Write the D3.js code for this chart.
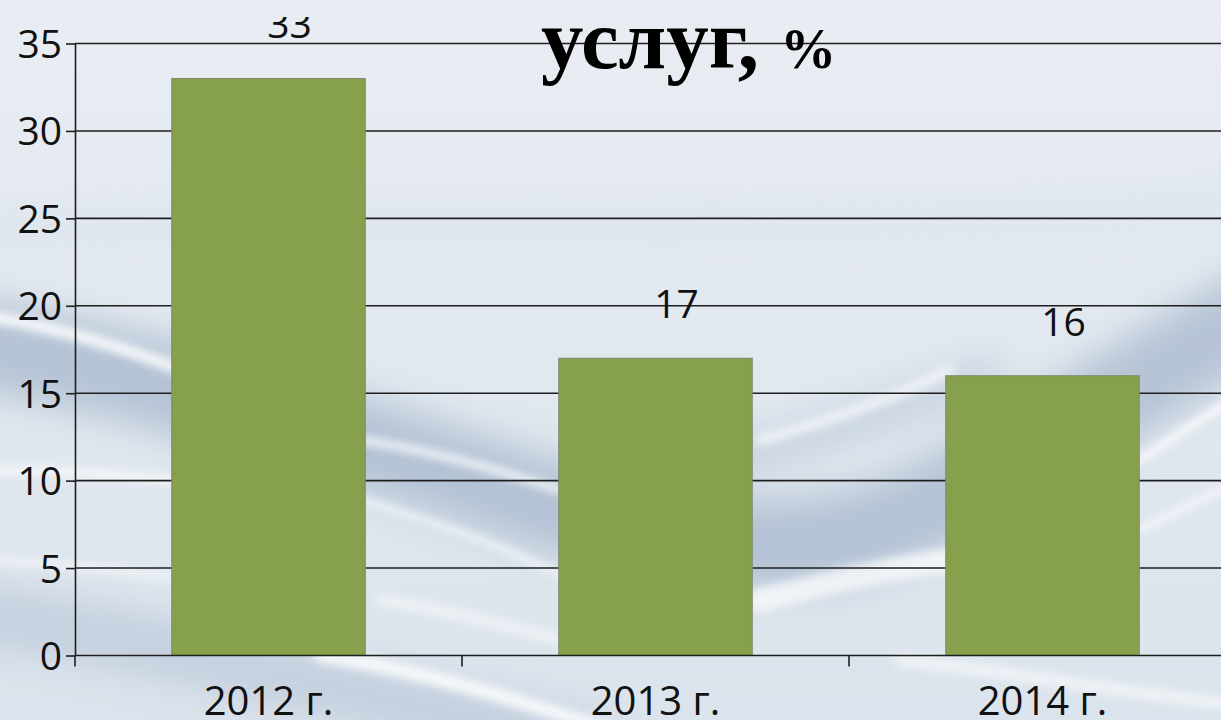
<!DOCTYPE html>
<html>
<head>
<meta charset="utf-8">
<script src="https://cdn.jsdelivr.net/npm/d3@7"></script>
<style>
  html, body { margin: 0; padding: 0; overflow: hidden; }
  body { width: 1221px; height: 720px; }
  .sans { font-family: "Open Sans", sans-serif; }
  .serif { font-family: "Liberation Serif", "Times New Roman", serif; font-weight: bold; }
</style>
</head>
<body>
<div id="chart-area"></div>
<script>
const categories = ["2012 г.", "2013 г.", "2014 г."];
const values = [33, 17, 16];
const yTicks = [0, 5, 10, 15, 20, 25, 30, 35];
const titleText = "услуг,";
const titleUnit = "%";

const W = 1221, H = 720;
const margin = { top: 43.5, left: 75, bottom: 64.5 };
const plotW = 1161; // axis runs past the right edge of the picture
const plotH = H - margin.top - margin.bottom;

const svg = d3.select("#chart-area")
  .append("svg")
  .attr("width", W)
  .attr("height", H);

// background: pale blue-grey with soft waves
const defs = svg.append("defs");
const bg = defs.append("linearGradient")
  .attr("id", "bg").attr("x1", 0).attr("y1", 0).attr("x2", 0).attr("y2", 1);
bg.append("stop").attr("offset", "0%").attr("stop-color", "#e9edf3");
bg.append("stop").attr("offset", "40%").attr("stop-color", "#e3e9f0");
bg.append("stop").attr("offset", "100%").attr("stop-color", "#dbe3ec");

function blur(id, sd) {
  defs.append("filter").attr("id", id)
    .attr("filterUnits", "userSpaceOnUse")
    .attr("x", -100).attr("y", -100).attr("width", W + 200).attr("height", H + 200)
    .append("feGaussianBlur").attr("stdDeviation", sd);
}
blur("blurL", 18);
blur("blurS", 4);

defs.append("clipPath").attr("id", "topclip")
  .append("rect").attr("x", 0).attr("y", 17).attr("width", W).attr("height", H);

svg.append("rect").attr("width", W).attr("height", H).attr("fill", "url(#bg)");

const darkWaves = [
  { d: "M-50,340 C150,370 350,440 550,505 C700,550 800,560 900,520 C1000,480 1100,400 1280,300", w: 90, c: "#9db0c7", o: 0.65 },
  { d: "M-50,610 C150,640 350,690 600,750", w: 60, c: "#b0c0d3", o: 0.55 },
  { d: "M700,470 C800,440 900,410 1000,370", w: 30, c: "#9fb2c9", o: 0.45 },
  { d: "M-50,230 C300,210 800,240 1280,200", w: 40, c: "#d6dee8", o: 0.4 }
];
const lightWaves = [
  { d: "M-20,315 C80,330 160,360 260,400", w: 12, o: 0.85 },
  { d: "M-20,470 C100,470 200,480 300,500", w: 8, o: 0.7 },
  { d: "M-20,560 C100,565 200,580 300,600", w: 8, o: 0.55 },
  { d: "M360,440 C430,450 500,470 560,490", w: 8, o: 0.8 },
  { d: "M360,500 C430,520 500,545 560,575", w: 6, o: 0.75 },
  { d: "M380,600 C450,610 500,625 560,640", w: 10, o: 0.55 },
  { d: "M760,440 C830,420 890,400 950,370", w: 10, o: 0.65 },
  { d: "M760,600 C820,585 880,570 950,560", w: 24, o: 0.7 },
  { d: "M1140,460 C1170,440 1200,420 1240,395", w: 8, o: 0.85 },
  { d: "M1140,530 C1170,515 1200,500 1240,480", w: 6, o: 0.75 },
  { d: "M320,655 C420,670 520,700 640,740", w: 14, o: 0.8 },
  { d: "M900,660 C1000,670 1100,690 1240,705", w: 12, o: 0.55 }
];
const waves = svg.append("g");
waves.selectAll("path.dark")
  .data(darkWaves).enter().append("path")
  .attr("class", "dark")
  .attr("d", d => d.d)
  .attr("fill", "none")
  .attr("stroke", d => d.c)
  .attr("stroke-width", d => d.w)
  .attr("opacity", d => d.o)
  .attr("filter", "url(#blurL)");
waves.selectAll("path.light")
  .data(lightWaves).enter().append("path")
  .attr("class", "light")
  .attr("d", d => d.d)
  .attr("fill", "none")
  .attr("stroke", "#ffffff")
  .attr("stroke-width", d => d.w)
  .attr("stroke-linecap", "round")
  .attr("opacity", d => d.o)
  .attr("filter", "url(#blurS)");

const g = svg.append("g")
  .attr("transform", `translate(${margin.left}, ${margin.top})`);

const x = d3.scaleBand()
  .domain(categories)
  .range([0, plotW])
  .paddingInner(0.5)
  .paddingOuter(0.25);

const y = d3.scaleLinear()
  .domain([0, 35])
  .range([plotH, 0]);

const ink = "#1e1e1e";

// gridlines
g.append("g")
  .selectAll("line")
  .data(yTicks.filter(t => t > 0))
  .enter().append("line")
  .attr("x1", 0)
  .attr("x2", plotW)
  .attr("y1", d => y(d))
  .attr("y2", d => y(d))
  .attr("stroke", ink)
  .attr("stroke-width", 1.6);

// y axis
const yAxis = g.append("g")
  .call(d3.axisLeft(y).tickValues(yTicks).tickSize(9).tickPadding(4).tickSizeOuter(0));
yAxis.select(".domain").attr("stroke", ink).attr("stroke-width", 1.6);
yAxis.selectAll(".tick line").attr("stroke", ink).attr("stroke-width", 1.6);
yAxis.selectAll(".tick text")
  .attr("class", "sans")
  .attr("fill", "#111")
  .attr("font-size", 39)
  .attr("dy", "0.36em");

// bars
g.selectAll("rect.bar")
  .data(values)
  .enter().append("rect")
  .attr("class", "bar")
  .attr("x", (d, i) => x(categories[i]))
  .attr("y", d => y(d))
  .attr("width", x.bandwidth())
  .attr("height", d => plotH - y(d))
  .attr("fill", "#86a04c")
  .attr("stroke", "#7d8a6a")
  .attr("stroke-width", 1);

// x axis
const boundaries = categories.map(c => x(c) - x.step() * 0.25);
const xAxis = g.append("g").attr("transform", `translate(0, ${plotH})`);
xAxis.append("line")
  .attr("x1", 0).attr("x2", plotW)
  .attr("stroke", ink).attr("stroke-width", 1.6);
xAxis.selectAll("line.tick")
  .data(boundaries)
  .enter().append("line")
  .attr("class", "tick")
  .attr("x1", d => d).attr("x2", d => d)
  .attr("y1", 0).attr("y2", 11)
  .attr("stroke", ink).attr("stroke-width", 1.6);
xAxis.selectAll("text")
  .data(categories)
  .enter().append("text")
  .attr("class", "sans")
  .attr("x", d => x(d) + x.bandwidth() / 2)
  .attr("y", 59)
  .attr("text-anchor", "middle")
  .attr("font-size", 40)
  .attr("fill", "#111")
  .text(d => d);

// data labels (the top one is clipped like in the original slide)
svg.append("g")
  .attr("clip-path", "url(#topclip)")
  .append("g")
  .attr("transform", `translate(${margin.left}, ${margin.top})`)
  .selectAll("text")
  .data(values)
  .enter().append("text")
  .attr("class", "sans")
  .attr("x", (d, i) => x(categories[i]) + x.bandwidth() / 2 + 21)
  .attr("y", d => y(d) - 40)
  .attr("text-anchor", "middle")
  .attr("font-size", 39)
  .attr("fill", "#111")
  .text(d => d);

// title (partly cut off at the top of the picture)
const title = svg.append("text")
  .attr("class", "serif")
  .attr("x", 541)
  .attr("y", 68)
  .attr("fill", "#000");
title.append("tspan").attr("font-size", 85).text(titleText + " ");
title.append("tspan").attr("font-size", 56).text(titleUnit);
</script>
</body>
</html>
